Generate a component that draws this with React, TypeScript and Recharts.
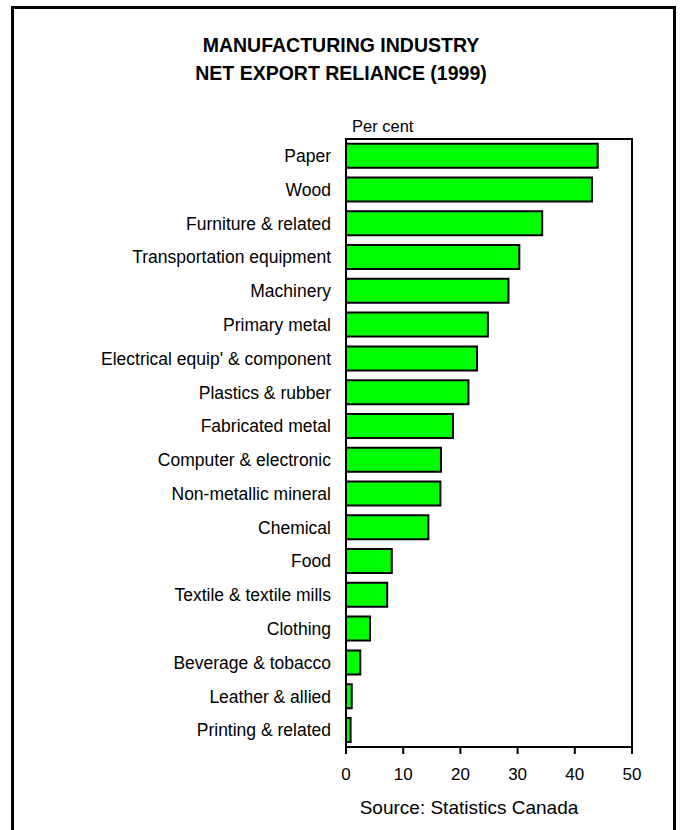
import React from 'react';
import { BarChart, Bar, XAxis, YAxis, ReferenceArea } from 'recharts';

const categories = [
  'Paper',
  'Wood',
  'Furniture & related',
  'Transportation equipment',
  'Machinery',
  'Primary metal',
  "Electrical equip' & component",
  'Plastics & rubber',
  'Fabricated metal',
  'Computer & electronic',
  'Non-metallic mineral',
  'Chemical',
  'Food',
  'Textile & textile mills',
  'Clothing',
  'Beverage & tobacco',
  'Leather & allied',
  'Printing & related',
];

const values = [44.0, 43.0, 34.3, 30.3, 28.4, 24.8, 22.9, 21.4, 18.7, 16.6, 16.5, 14.4, 8.0, 7.2, 4.2, 2.5, 1.0, 0.8];

const xTicks = [0, 10, 20, 30, 40, 50];

const data = categories.map((name, i) => ({ name, value: values[i] }));

const FONT = '"Liberation Sans", Arial, Helvetica, sans-serif';

export default function App() {
  return (
    <div
      style={{
        position: 'absolute',
        left: 0,
        top: 0,
        width: 680,
        height: 830,
        overflow: 'hidden',
        background: '#fff',
        fontFamily: FONT,
        color: '#000',
      }}
    >
      <div
        style={{
          position: 'absolute',
          left: 11,
          top: 6,
          width: 665,
          height: 830,
          boxSizing: 'border-box',
          border: '3px solid #000',
          borderBottom: 'none',
        }}
      />
      <div
        style={{
          position: 'absolute',
          left: 0,
          top: 31,
          width: 682,
          textAlign: 'center',
          fontWeight: 'bold',
          fontSize: 19.5,
          lineHeight: '28px',
        }}
      >
        MANUFACTURING INDUSTRY
        <br />
        NET EXPORT RELIANCE (1999)
      </div>
      <div style={{ position: 'absolute', left: 352, top: 116, fontSize: 16.5, lineHeight: '20px' }}>Per cent</div>
      <div
        style={{
          position: 'absolute',
          left: 346,
          width: 246,
          top: 797,
          textAlign: 'center',
          fontSize: 19,
          lineHeight: '22px',
        }}
      >
        Source: Statistics Canada
      </div>
      <div style={{ position: 'absolute', left: 0, top: 0 }}>
        <BarChart
          width={680}
          height={830}
          data={data}
          layout="vertical"
          margin={{ top: 139, right: 48, bottom: 53, left: 0 }}
          barCategoryGap="14%"
        >
          <XAxis
            type="number"
            domain={[0, 50]}
            ticks={xTicks}
            height={30}
            tickSize={7}
            tickMargin={14}
            axisLine={{ stroke: '#000', strokeWidth: 2 }}
            tickLine={{ stroke: '#000', strokeWidth: 2 }}
            tick={{ fill: '#000', fontSize: 17 }}
            allowDataOverflow
          />
          <YAxis
            type="category"
            dataKey="name"
            width={346}
            tickSize={0}
            tickMargin={15}
            axisLine={{ stroke: '#000', strokeWidth: 2 }}
            tickLine={false}
            tick={{ fill: '#000', fontSize: 17.5 }}
            interval={0}
          />
          <ReferenceArea x1={0} x2={50} fill="none" stroke="#000" strokeWidth={2} ifOverflow="visible" />
          <Bar dataKey="value" fill="#00ff00" stroke="#000" strokeWidth={2} isAnimationActive={false} />
        </BarChart>
      </div>
    </div>
  );
}
